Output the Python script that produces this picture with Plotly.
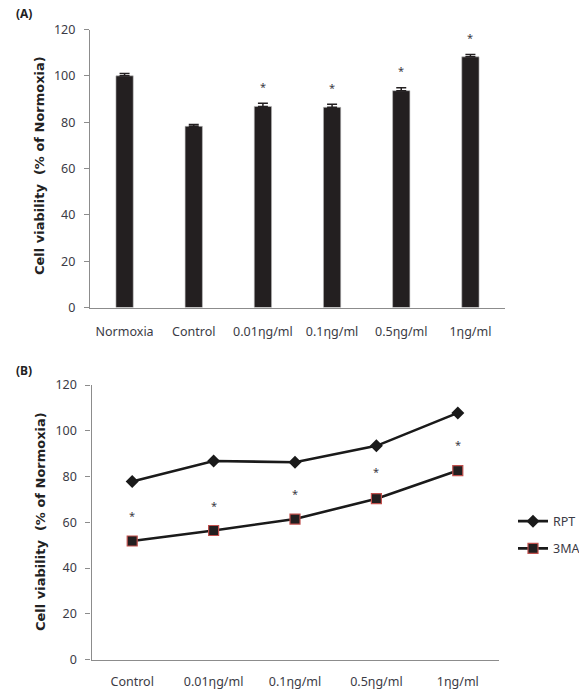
import plotly.graph_objects as go

# ---- Panel A data ----
cats_a = ["Normoxia", "Control", "0.01ηg/ml", "0.1ηg/ml", "0.5ηg/ml", "1ηg/ml"]
vals_a = [100.0, 78.2, 86.8, 86.4, 93.6, 108.2]
err_a = [1.0, 0.8, 1.4, 1.3, 1.3, 1.0]
star_a = [False, False, True, True, True, True]

# ---- Panel B data ----
cats_b = ["Control", "0.01ηg/ml", "0.1ηg/ml", "0.5ηg/ml", "1ηg/ml"]
rpt_b = [77.8, 86.8, 86.2, 93.4, 107.8]
ma_b = [51.8, 56.4, 61.4, 70.3, 82.6]
star_b = [63.0, 67.4, 72.5, 82.0, 94.0]

W, H = 579, 692
FONT = "Noto Sans"
TFONT = "DejaVu Sans"
TXT = "#3b3b45"
AX = "#8c8c8c"
YTITLE = "<b>Cell viability \u00a0(% of Normoxia)</b>"

def px(x):
    return x / W

def py(y):
    return (H - y) / H

fig = go.Figure()

fig.add_trace(go.Bar(
    x=cats_a, y=vals_a, xaxis="x", yaxis="y",
    marker=dict(color="#231f20", line=dict(color="#bdbdbd", width=0.6)),
    error_y=dict(type="data", array=err_a, arrayminus=[0]*len(err_a), symmetric=False,
                 color="#231f20", thickness=1.5, width=5),
    showlegend=False,
))

fig.add_trace(go.Scatter(
    x=cats_b, y=rpt_b, xaxis="x2", yaxis="y2", name="RPT", mode="lines+markers",
    legendgroup="rpt",
    line=dict(color="#1a1a1a", width=2.6),
    marker=dict(symbol="diamond", size=10, color="#1a1a1a"),
))
fig.add_trace(go.Scatter(
    x=cats_b, y=ma_b, xaxis="x2", yaxis="y2", name="3MA", mode="lines+markers",
    legendgroup="3ma",
    line=dict(color="#1a1a1a", width=2.6),
    marker=dict(symbol="square", size=10, color="#231f20", line=dict(color="#c0504d", width=1.2)),
))

annotations = []
for c, v, e, s in zip(cats_a, vals_a, err_a, star_a):
    if s:
        annotations.append(dict(x=c, y=v + e, xref="x", yref="y", text="*", showarrow=False,
                                yshift=17, yanchor="middle",
                                font=dict(family=FONT, size=11, color=TXT)))
for c, s in zip(cats_b, star_b):
    annotations.append(dict(x=c, y=s, xref="x2", yref="y2", text="*", showarrow=False,
                            yshift=0, yanchor="middle",
                            font=dict(family=FONT, size=11, color=TXT)))

annotations += [
    dict(x=px(14), y=py(13), xref="paper", yref="paper", text="<b>(A)</b>", showarrow=False,
         xanchor="left", yanchor="middle", font=dict(family=FONT, size=12, color="#222")),
    dict(x=px(14), y=py(370), xref="paper", yref="paper", text="<b>(B)</b>", showarrow=False,
         xanchor="left", yanchor="middle", font=dict(family=FONT, size=12, color="#222")),
    dict(x=px(40), y=py(166), xref="paper", yref="paper", text=YTITLE,
         showarrow=False, textangle=-90, xanchor="center", yanchor="middle",
         font=dict(family=TFONT, size=13, color="#222")),
    dict(x=px(40), y=py(522), xref="paper", yref="paper", text=YTITLE,
         showarrow=False, textangle=-90, xanchor="center", yanchor="middle",
         font=dict(family=TFONT, size=13, color="#222")),
]

yax = dict(range=[0, 120], dtick=20, showline=True, linecolor=AX, linewidth=1.2,
           ticks="outside", ticklen=5, tickcolor=AX, showgrid=False, zeroline=False,
           automargin=False,
           tickfont=dict(family=FONT, size=12.5, color=TXT), ticklabelstandoff=6)
xax = dict(showline=True, linecolor=AX, linewidth=1.2, ticks="", showgrid=False,
           automargin=False,
           tickfont=dict(family=FONT, size=12.5, color=TXT), ticklabelstandoff=12)

fig.update_layout(
    template="none",
    width=W, height=H, margin=dict(l=0, r=0, t=0, b=0, pad=0, autoexpand=False),
    paper_bgcolor="white", plot_bgcolor="white",
    font=dict(family=FONT, color=TXT),
    bargap=0.75,
    xaxis=dict(xax, domain=[px(90), px(505)], anchor="y", range=[-0.5, 5.5]),
    yaxis=dict(yax, domain=[py(307.5), py(29.5)], anchor="x"),
    xaxis2=dict(xax, domain=[px(91.5), px(498.5)], anchor="y2", ticklabelstandoff=10,
                range=[-0.5, 4.5]),
    yaxis2=dict(yax, domain=[py(659.5), py(385)], anchor="x2"),
    legend=dict(x=px(513), y=py(535), xanchor="left", yanchor="middle",
                font=dict(family=FONT, size=12.5, color=TXT), bgcolor="rgba(0,0,0,0)",
                borderwidth=0, itemwidth=30, tracegroupgap=8),
    annotations=annotations,
)

fig.write_html("out.html", config={"displayModeBar": False},
               post_script="document.body.style.margin='0';document.body.style.overflow='hidden';")
